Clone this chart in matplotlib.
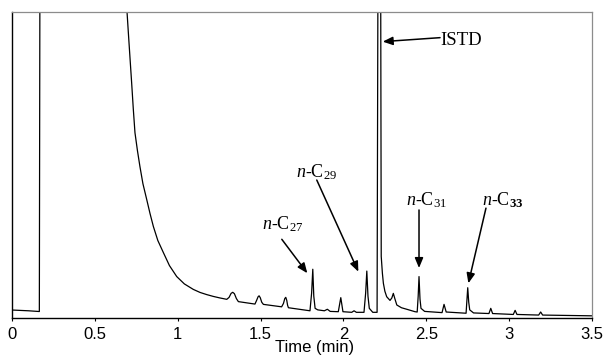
import matplotlib
matplotlib.use("Agg")
import matplotlib.pyplot as plt

plt.rcParams["font.family"] = ["Liberation Sans", "DejaVu Sans"]
plt.rcParams["mathtext.fontset"] = "custom"
plt.rcParams["mathtext.rm"] = "Liberation Serif"
plt.rcParams["mathtext.it"] = "Liberation Serif:italic"
plt.rcParams["mathtext.bf"] = "Liberation Serif:bold"

# ---------- datos leidos del cromatograma ------------------------------------
# tiempo (min) y senal (unidades relativas, 0-100 = alto del marco)
time_min = [
    0.000, 0.100, 0.165, 0.169, 0.690,
    0.694, 0.702, 0.712, 0.722, 0.732, 0.742, 0.757, 0.772, 0.790, 0.813,
    0.833, 0.853, 0.880, 0.913, 0.950, 0.994, 1.040, 1.094,
    1.135, 1.175, 1.215, 1.255, 1.296, 1.310, 1.322, 1.332, 1.342, 1.354, 1.366,
    1.466, 1.476, 1.485, 1.491, 1.498, 1.507, 1.517,
    1.627, 1.638, 1.646, 1.652, 1.658, 1.663, 1.668,
    1.798, 1.808, 1.815, 1.821, 1.829, 1.845,
    1.885, 1.903, 1.920,
    1.969, 1.984, 1.997,
    2.050, 2.064, 2.078,
    2.124, 2.134, 2.141, 2.148, 2.156, 2.177,
    2.203, 2.209, 2.224, 2.228, 2.235, 2.241, 2.250, 2.261, 2.281, 2.292,
    2.301, 2.310, 2.322, 2.350, 2.382, 2.432,
    2.445, 2.451, 2.456, 2.462, 2.468, 2.490,
    2.595, 2.607, 2.620,
    2.740, 2.750, 2.756, 2.762, 2.785,
    2.878, 2.889, 2.900,
    3.025, 3.036, 3.047,
    3.178, 3.190, 3.202,
    3.500,
]
signal = [
    2.45, 2.2, 1.96, 130.0, 130.0,
    100.1, 93.3, 85.0, 76.8, 68.2, 60.5, 54.6, 49.4, 43.8, 38.6,
    34.0, 29.8, 25.2, 21.3, 17.0, 13.4, 11.0, 9.2,
    8.2, 7.5, 6.9, 6.4, 5.95, 6.6, 7.9, 8.25, 7.8, 6.2, 5.2,
    4.4, 5.6, 6.8, 7.1, 6.5, 5.0, 4.3,
    3.5, 4.6, 6.2, 6.6, 5.6, 4.0, 3.2,
    2.2, 8.0, 15.8, 7.0, 3.0, 2.5,
    2.2, 2.7, 2.0,
    1.9, 6.5, 1.9,
    1.7, 2.2, 1.7,
    1.7, 8.0, 15.2, 7.0, 3.0, 1.7,
    1.7, 130.0, 130.0, 20.0, 14.5, 11.2, 8.6, 6.8, 5.6, 6.4,
    7.9, 6.2, 4.1, 3.2, 2.7, 1.9,
    1.8, 7.0, 13.4, 6.0, 3.0, 2.0,
    1.6, 4.3, 1.8,
    1.4, 9.75, 5.0, 2.5, 1.5,
    1.3, 3.0, 1.3,
    1.0, 2.35, 1.0,
    0.8, 1.8, 0.8,
    0.55,
]

xticks = [0, 0.5, 1, 1.5, 2, 2.5, 3, 3.5]
xtick_labels = ["0", "0.5", "1", "1.5", "2", "2.5", "3", "3.5"]

# etiquetas de picos: texto, posicion del texto, inicio y punta de la flecha
peak_labels = [
    (r"$\mathit{n}$-C$_{27}$", (1.632, 29.0), (1.628, 25.6), (1.782, 14.5)),
    (r"$\mathit{n}$-C$_{29}$", (1.841, 45.9), (1.839, 45.0), (2.090, 15.0)),
    (r"$\mathit{n}$-C$_{31}$", (2.504, 36.8), (2.456, 35.2), (2.456, 16.2)),
    (r"$\mathit{n}$-C$_{\mathbf{33}}$", (2.960, 36.7), (2.860, 35.8), (2.754, 11.2)),
]

# ---------- figura -----------------------------------------------------------
fig = plt.figure(figsize=(6.03, 3.58), dpi=100)
ax = fig.add_axes([0.0199, 0.1131, 0.9619, 0.8534])

ax.plot(time_min, signal, color="black", lw=0.9, solid_joinstyle="round")

ax.set_xlim(0, 3.5)
ax.set_ylim(0, 100)
ax.set_yticks([])
ax.set_xticks(xticks)
ax.set_xticklabels(xtick_labels, fontsize=12)
ax.tick_params(axis="x", direction="out", length=2.5, width=0.8, pad=4)

for side in ("left", "bottom"):
    ax.spines[side].set_color("black")
    ax.spines[side].set_linewidth(1.0)
for side in ("top", "right"):
    ax.spines[side].set_color("#8c8c8c")
    ax.spines[side].set_linewidth(0.9)

ax.set_xlabel("Time (min)", fontsize=12, labelpad=0)
ax.xaxis.set_label_coords(0.522, -0.075)

arrow_kw = dict(arrowstyle="-|>,head_length=0.6,head_width=0.25",
                color="black", lw=1.1, shrinkA=0, shrinkB=0)

for txt, tpos, start, tip in peak_labels:
    ax.text(tpos[0], tpos[1], txt, fontsize=13, ha="center", va="baseline",
            family="Liberation Serif")
    ax.annotate("", xy=tip, xytext=start, arrowprops=arrow_kw)

# patron interno
ax.text(2.586, 89.2, "ISTD", fontsize=13.5, ha="left", va="baseline",
        family="Liberation Serif")
ax.annotate("", xy=(2.237, 90.3), xytext=(2.583, 91.6), arrowprops=arrow_kw)

fig.savefig("out.png", dpi=100)
